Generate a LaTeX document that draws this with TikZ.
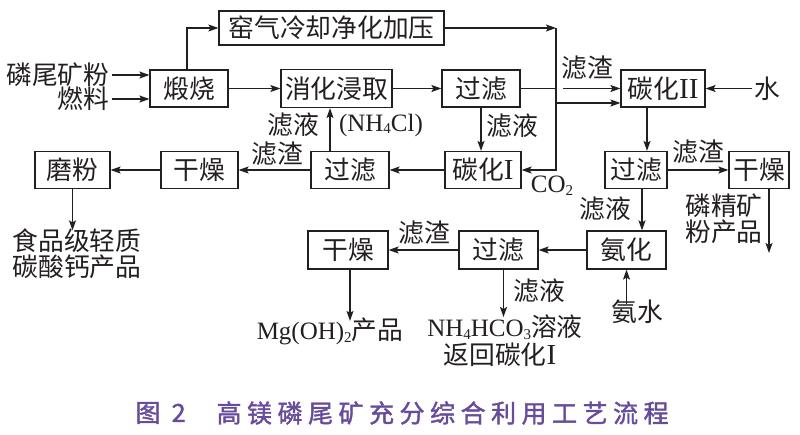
\documentclass[tikz,border=0pt]{standalone}
\usepackage{fontspec}
\setmainfont{Liberation Serif}
\newfontfamily\zh[Scale=1.03]{Noto Sans CJK SC}
\newfontfamily\zhcap[FakeBold=1.6,LetterSpace=22]{Noto Sans CJK SC}
\usetikzlibrary{arrows.meta}
\definecolor{ink}{RGB}{35,31,32}
\definecolor{capviolet}{RGB}{104,76,156}
\newcommand{\chemsub}[1]{\raisebox{-0.25ex}{\fontsize{15}{15}\selectfont #1}}
\newcommand{\romnum}[1]{{\fontsize{29}{29}\selectfont #1}}

\begin{document}
\begin{tikzpicture}[x=1pt,y=-1pt,
    font=\fontsize{25}{28}\selectfont, line width=1.2pt, color=ink,
    proc/.style={draw, minimum height=37pt, inner sep=0pt},
    flow/.style={-{Stealth[length=10pt,width=7pt,inset=2pt]}},
    lbl/.style={inner sep=0pt}]
  \useasboundingbox[fill=white] (0,0) rectangle (800,434);

  % boxes
  \node[proc, minimum width=225pt, minimum height=34pt] (kiln) at (331.5,28) {\zh 窑气冷却净化加压};
  \node[proc, minimum width=78pt] (calc) at (189,88.5) {\zh 煅烧};
  \node[proc, minimum width=111pt, minimum height=38pt] (digest) at (336.5,88.5) {\zh 消化浸取};
  \node[proc, minimum width=78pt] (filt1) at (481,88.5) {\zh 过滤};
  \node[proc, minimum width=84pt] (carb2) at (663,88.5) {{\zh 碳化}\romnum{II}};
  \node[proc, minimum width=76pt] (carb1) at (483,170) {{\zh 碳化}\romnum{I}};
  \node[proc, minimum width=78pt] (filt2) at (350,170) {\zh 过滤};
  \node[proc, minimum width=77pt] (dry1) at (199.5,170) {\zh 干燥};
  \node[proc, minimum width=75pt] (grind) at (72.5,170) {\zh 磨粉};
  \node[proc, minimum width=62pt] (filt3) at (636,170) {\zh 过滤};
  \node[proc, minimum width=60pt] (dry2) at (759,170) {\zh 干燥};
  \node[proc, minimum width=79pt, minimum height=38pt] (amm) at (626.5,250) {\zh 氨化};
  \node[proc, minimum width=79pt, minimum height=38pt] (filt4) at (498.5,250) {\zh 过滤};
  \node[proc, minimum width=80pt, minimum height=38pt] (dry3) at (348,250) {\zh 干燥};

  % plain texts
  \node[lbl, anchor=east] (t_ore) at (110,75) {\zh 磷尾矿粉};
  \node[lbl, anchor=east] (t_fuel) at (110,99) {\zh 燃料};
  \node[lbl, anchor=west, inner sep=2pt] (t_water) at (752,88.5) {\zh 水};
  \node[lbl, align=center, font=\fontsize{25}{26}\selectfont] (t_caco3) at (77,254) {\zh 食品级轻质\\\zh 碳酸钙产品};
  \node[lbl] (t_mgoh) at (330,331) {Mg(OH)\chemsub{2}{\zh 产品}};
  \node[lbl] (t_nh4) at (505,327) {NH\chemsub{4}HCO\chemsub{3}{\zh 溶液}};
  \node[lbl] (t_back) at (500,355) {{\zh 返回碳化}\romnum{I}};
  \node[lbl, align=left, font=\fontsize{25}{26}\selectfont] (t_prod) at (724,219) {\zh 磷精矿\\\zh 粉产品};
  \node[lbl] (t_ammw) at (637,312) {\zh 氨水};
  \node[lbl] (t_co2) at (552,186) {CO\chemsub{2}};
  \node[lbl] at (587,68) {\zh 滤渣};
  \node[lbl] at (512,126) {\zh 滤液};
  \node[lbl] at (293,125) {\zh 滤液};
  \node[lbl] at (381,125) {(NH\chemsub{4}Cl)};
  \node[lbl] at (277,154) {\zh 滤渣};
  \node[lbl] at (698,152) {\zh 滤渣};
  \node[lbl] at (605,209) {\zh 滤液};
  \node[lbl] at (424,233) {\zh 滤渣};
  \node[lbl] at (539,291) {\zh 滤液};

  % connectors
  \coordinate (co2top) at (556,28);
  \coordinate (co2br) at (556,103);
  \coordinate (gapl) at (filt1.east -| co2top);
  \coordinate (prodend) at (769,253);
  \draw[flow] ([xshift=2pt]t_ore.east) -- (t_ore.east -| calc.west);
  \draw[flow] ([xshift=2pt]t_fuel.east) -- (t_fuel.east -| calc.west);
  \draw[flow] ([xshift=-2pt]calc.north) |- (kiln.west);
  \draw[flow] (kiln.east) -- (co2top);
  \draw[flow] (co2top) -- (carb1.east -| co2top) -- (carb1.east);
  \draw[flow] (co2br) -- (co2br -| carb2.west);
  \draw (filt1.east) -- (gapl);
  \draw[flow] ([xshift=7pt]gapl) -- (gapl -| carb2.west);
  \draw[flow] (calc) -- (digest);
  \draw[flow] (digest) -- (filt1);
  \draw[flow] (filt1.south) -- (filt1.south |- carb1.north);
  \draw[flow] (carb1) -- (filt2);
  \draw[flow] ([xshift=-20pt]filt2.north) -- ([xshift=-20pt]filt2.north |- digest.south);
  \draw[flow] (filt2) -- (dry1);
  \draw[flow] (dry1) -- (grind);
  \draw[flow] (grind.south) -- ([yshift=-2pt]grind.south |- t_caco3.north);
  \draw[flow] (t_water.west) -- (carb2.east);
  \draw[flow] ([xshift=-16pt]carb2.south) -- ([xshift=-16pt]carb2.south |- filt3.north);
  \draw[flow] (filt3) -- (dry2);
  \draw[flow] ([xshift=10pt]dry2.south) -- (prodend);
  \draw[flow] ([xshift=6pt]filt3.south) -- ([xshift=6pt]filt3.south |- amm.north);
  \draw[flow] ([yshift=-4pt]amm.south |- t_ammw.north) -- (amm.south);
  \draw[flow] (amm) -- (filt4);
  \draw[flow] (filt4) -- (dry3);
  \draw[flow] ([xshift=5pt]filt4.south) -- ([xshift=5pt,yshift=-3pt]filt4.south |- t_nh4.north);
  \draw[flow] ([xshift=2pt]dry3.south) -- ([xshift=2pt,yshift=-4pt]dry3.south |- t_mgoh.north);

  % caption
  \node[lbl, anchor=west, text=capviolet, font=\zhcap\fontsize{25}{27}\selectfont] (capnum) at (135,413) {图 2};
  \node[lbl, anchor=west, text=capviolet, font=\zhcap\fontsize{25}{27}\selectfont] (captitle) at (216,413) {高镁磷尾矿充分综合利用工艺流程};
\end{tikzpicture}
\end{document}
